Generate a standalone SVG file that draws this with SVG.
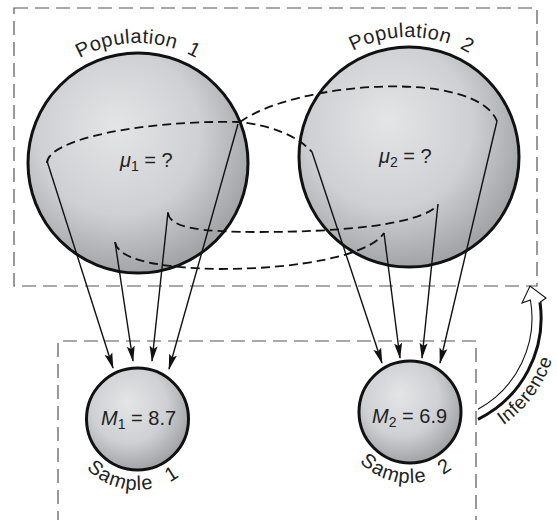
<svg xmlns="http://www.w3.org/2000/svg" width="557" height="520" viewBox="0 0 557 520">
<style>
.box{fill:none;stroke:#555;stroke-width:1.2;stroke-dasharray:14 7}
.ball{fill:url(#sph);stroke:#111;stroke-width:3}
.dash{fill:none;stroke:#111;stroke-width:1.8;stroke-dasharray:9 5}
.arr{fill:none;stroke:#111;stroke-width:1.4;marker-end:url(#ah)}
.lbl{font-family:"Liberation Sans",Arial,sans-serif;font-size:20px;fill:#222}
.arc{font-family:"Liberation Sans",Arial,sans-serif;font-size:20px;fill:#222;letter-spacing:0.5px;word-spacing:5px}
</style>
<defs>
<radialGradient id="sph" cx="0.42" cy="0.38" r="0.62" fx="0.4" fy="0.33">
<stop offset="0" stop-color="#e4e5e7"/>
<stop offset="0.6" stop-color="#cfd0d3"/>
<stop offset="1" stop-color="#a2a4a7"/>
</radialGradient>
<marker id="ah" markerUnits="userSpaceOnUse" markerWidth="16" markerHeight="10" viewBox="0 0 16 10" refX="15" refY="5" orient="auto">
<path d="M0,1 L16,5 L0,9 L3,5 Z" fill="#111"/>
</marker>
<path id="tp1" d="M18,163 A120,120 0 0 1 258,163"/>
<path id="tp2" d="M289,157 A120,120 0 0 1 529,157"/>
<path id="ts1" d="M66.5,419 A71,71 0 0 0 208.5,419"/>
<path id="ts2" d="M339,412 A71,71 0 0 0 481,412"/>
<path id="tinf" d="M489.5,433.7 A131,131 0 0 0 559,318"/>
</defs>

<g id="population-frame"><rect class="box" x="14" y="8" width="523" height="278"/></g>
<g id="sample-frame"><path class="box" d="M58,525 V341 H476 V525"/></g>

<g id="population1">
<circle class="ball" cx="138" cy="163" r="110"/>
<text class="lbl" x="120" y="167"><tspan font-style="italic">μ</tspan><tspan font-size="14" dy="4">1</tspan><tspan dy="-4"> = ?</tspan></text>
<text class="arc"><textPath href="#tp1" startOffset="50%" text-anchor="middle">Population 1</textPath></text>
</g>

<g id="population2">
<circle class="ball" cx="409" cy="157" r="110"/>
<text class="lbl" x="379" y="163"><tspan font-style="italic">μ</tspan><tspan font-size="14" dy="4">2</tspan><tspan dy="-4"> = ?</tspan></text>
<text class="arc"><textPath href="#tp2" startOffset="50.7%" text-anchor="middle">Population 2</textPath></text>
</g>

<g id="sample1">
<circle class="ball" cx="137.5" cy="419" r="51"/>
<text class="lbl" x="101" y="425"><tspan font-style="italic">M</tspan><tspan font-size="14" dy="4">1</tspan><tspan dy="-4"> = 8.7</tspan></text>
<text class="arc" style="letter-spacing:1px;word-spacing:10px"><textPath href="#ts1" startOffset="47.5%" text-anchor="middle">Sample 1</textPath></text>
</g>

<g id="sample2">
<circle class="ball" cx="410" cy="412" r="51"/>
<text class="lbl" x="372" y="423"><tspan font-style="italic">M</tspan><tspan font-size="14" dy="4">2</tspan><tspan dy="-4"> = 6.9</tspan></text>
<text class="arc" style="letter-spacing:1px;word-spacing:10px"><textPath href="#ts2" startOffset="47.8%" text-anchor="middle">Sample 2</textPath></text>
</g>

<g id="connectors">
<path class="dash" d="M47,163 C47,140 140,120 240,122 Q290,128 312,152"/>
<path class="dash" d="M240,122 C295,82 475,68 497,121"/>
<path class="dash" d="M168,213 C170,228 200,232 260,232 C340,232 420,225 438,205"/>
<path class="dash" d="M115,242 C118,260 160,268 220,269 C300,269 370,255 384,233"/>
<line class="arr" x1="47" y1="161" x2="113" y2="368"/>
<line class="arr" x1="115" y1="242" x2="133" y2="361"/>
<line class="arr" x1="168" y1="212" x2="152" y2="361"/>
<line class="arr" x1="238" y1="124" x2="169" y2="369"/>
<line class="arr" x1="312" y1="152" x2="382" y2="363"/>
<line class="arr" x1="384" y1="233" x2="400" y2="358"/>
<line class="arr" x1="438" y1="204" x2="422" y2="358"/>
<line class="arr" x1="497" y1="121" x2="440" y2="363"/>
</g>

<g id="inference">
<path d="M478,419.3 A113,113 0 0 0 540,302.3 L546,298 L530,286 L522,303 L530.4,300 A104,104 0 0 1 478,409.2 Z" fill="#fff"/>
<path d="M478,409.2 A104,104 0 0 0 530.4,300 L522,303 L530,286 L546,298 L540,302.3" fill="none" stroke="#111" stroke-width="1.1" stroke-linejoin="miter"/>
<path d="M478,419.3 A113,113 0 0 0 540,302.3" fill="none" stroke="#111" stroke-width="3"/>
<text class="arc" style="font-size:19px;letter-spacing:0.5px"><textPath href="#tinf" startOffset="16">Inference</textPath></text>
</g>
</svg>
